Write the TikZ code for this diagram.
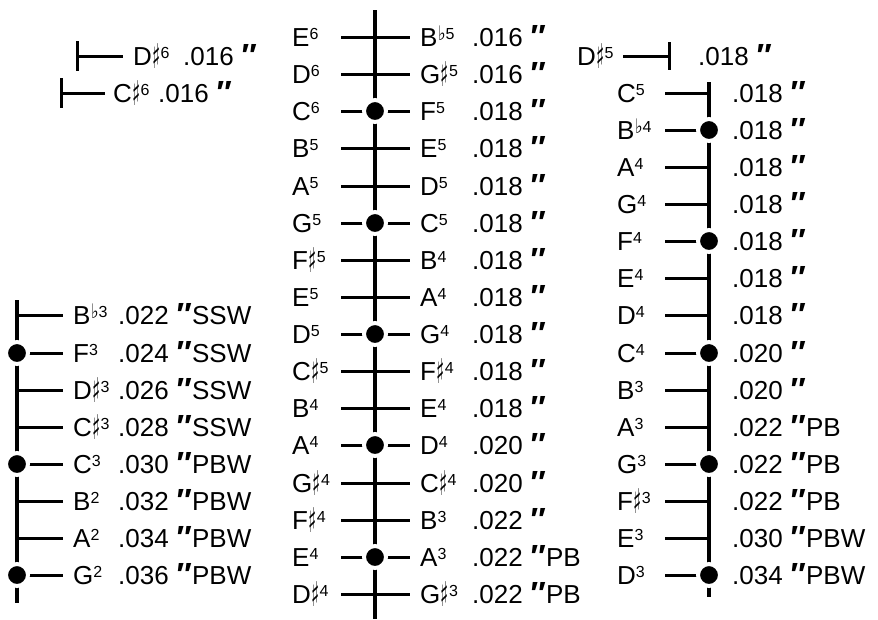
\documentclass[tikz,border=0pt]{standalone}
\usepackage{fontspec}
\setmainfont{Liberation Sans}
\newfontfamily\musicfont{DejaVu Sans}
\usetikzlibrary{positioning}
\tikzset{
  txt/.style={anchor=west,inner sep=0pt,text height=18.6pt,text depth=0pt},
  spine/.style={line width=3.2pt},
  stub/.style={line width=3pt},
  dot/.style={circle,fill=black,draw=white,line width=4pt,minimum size=22pt,inner sep=0pt},
}
\newcommand{\ry}[1]{round(37+#1*37.13)}
\newcommand{\sups}[1]{\raisebox{7pt}{\fontsize{16}{16}\selectfont #1}}
\newcommand{\shp}{\kern0.5pt\raisebox{-3pt}{\scalebox{0.5}[1]{\musicfont\fontsize{34}{34}\selectfont ♯}}}
\newcommand{\flt}{\kern0.5pt\raisebox{6pt}{\scalebox{0.8}[1]{\musicfont\fontsize{20}{20}\selectfont ♭}}}
\newcommand{\nt}[3]{#1#2\sups{#3}}
\newcommand{\inch}{\kern6pt\raisebox{-1pt}{\fontsize{32}{32}\selectfont\bfseries\itshape ″}\kern2pt}
% middle: row, name, left note, right note, gauge
\newcommand{\midrow}[5]{
  \coordinate (#2a) at (341,{\ry{#1}});
  \coordinate (#2b) at (410,{\ry{#1}});
  \draw[stub] (#2a) -- (#2b);
  \node[txt] (#2l) at (292,{\ry{#1}}) {#3};
  \node[txt] (#2r) at (420,{\ry{#1}}) {#4};
  \node[txt] (#2g) at (472,{\ry{#1}}) {#5};}
% left: row, name, note, gauge
\newcommand{\lowrow}[4]{
  \coordinate (#2a) at (17,{\ry{#1}});
  \coordinate (#2b) at (63,{\ry{#1}});
  \draw[stub] (#2a) -- (#2b);
  \node[txt] (#2n) at (73,{\ry{#1}}) {#3};
  \node[txt] (#2g) at (118,{\ry{#1}}) {#4};}
% right: row, name, note, gauge
\newcommand{\hirow}[4]{
  \coordinate (#2a) at (665,{\ry{#1}});
  \coordinate (#2b) at (709,{\ry{#1}});
  \draw[stub] (#2a) -- (#2b);
  \node[txt] (#2n) at (617,{\ry{#1}}) {#3};
  \node[txt] (#2g) at (732,{\ry{#1}}) {#4};}

\begin{document}
\begin{tikzpicture}[x=1pt,y=-1pt]
  \fontsize{26}{31}\selectfont
  \useasboundingbox (0,0) rectangle (878,619);

  % loose top strings
  \coordinate (Ds6t) at (77,{\ry{0.5}-15});
  \coordinate (Ds6u) at (77,{\ry{0.5}+15});
  \coordinate (Ds6b) at (123,{\ry{0.5}});
  \draw[stub] (Ds6t) -- (Ds6u);
  \draw[stub] (Ds6t|-Ds6b) -- (Ds6b);
  \node[txt] (Ds6n) at (133,{\ry{0.5}}) {\nt{D}{\shp}{6}};
  \node[txt] (Ds6g) at (183,{\ry{0.5}}) {.016\inch};

  \coordinate (Cs6t) at (61,{\ry{1.5}-15});
  \coordinate (Cs6u) at (61,{\ry{1.5}+15});
  \coordinate (Cs6b) at (105,{\ry{1.5}});
  \draw[stub] (Cs6t) -- (Cs6u);
  \draw[stub] (Cs6t|-Cs6b) -- (Cs6b);
  \node[txt] (Cs6n) at (113,{\ry{1.5}}) {\nt{C}{\shp}{6}};
  \node[txt] (Cs6g) at (158,{\ry{1.5}}) {.016\inch};

  \coordinate (Ds5t) at (669,{\ry{0.5}-14});
  \coordinate (Ds5u) at (669,{\ry{0.5}+14});
  \coordinate (Ds5a) at (623,{\ry{0.5}});
  \draw[stub] (Ds5t) -- (Ds5u);
  \draw[stub] (Ds5a) -- (Ds5a-|Ds5t);
  \node[txt] (Ds5n) at (577,{\ry{0.5}}) {\nt{D}{\shp}{5}};
  \node[txt] (Ds5g) at (698,{\ry{0.5}}) {.018\inch};

  % middle bridge
  \coordinate (mtop) at (375,10);
  \coordinate (mbot) at (375,619);
  \draw[spine] (mtop) -- (mbot);
  \midrow{0}{E6}{\nt{E}{}{6}}{\nt{B}{\flt}{5}}{.016\inch}
  \midrow{1}{D6}{\nt{D}{}{6}}{\nt{G}{\shp}{5}}{.016\inch}
  \midrow{2}{C6}{\nt{C}{}{6}}{\nt{F}{}{5}}{.018\inch}
  \midrow{3}{B5}{\nt{B}{}{5}}{\nt{E}{}{5}}{.018\inch}
  \midrow{4}{A5}{\nt{A}{}{5}}{\nt{D}{}{5}}{.018\inch}
  \midrow{5}{G5}{\nt{G}{}{5}}{\nt{C}{}{5}}{.018\inch}
  \midrow{6}{Fs5}{\nt{F}{\shp}{5}}{\nt{B}{}{4}}{.018\inch}
  \midrow{7}{E5}{\nt{E}{}{5}}{\nt{A}{}{4}}{.018\inch}
  \midrow{8}{D5}{\nt{D}{}{5}}{\nt{G}{}{4}}{.018\inch}
  \midrow{9}{Cs5}{\nt{C}{\shp}{5}}{\nt{F}{\shp}{4}}{.018\inch}
  \midrow{10}{B4}{\nt{B}{}{4}}{\nt{E}{}{4}}{.018\inch}
  \midrow{11}{A4}{\nt{A}{}{4}}{\nt{D}{}{4}}{.020\inch}
  \midrow{12}{Gs4}{\nt{G}{\shp}{4}}{\nt{C}{\shp}{4}}{.020\inch}
  \midrow{13}{Fs4}{\nt{F}{\shp}{4}}{\nt{B}{}{3}}{.022\inch}
  \midrow{14}{E4}{\nt{E}{}{4}}{\nt{A}{}{3}}{.022\inch PB}
  \midrow{15}{Ds4}{\nt{D}{\shp}{4}}{\nt{G}{\shp}{3}}{.022\inch PB}
  \node[dot] (C6d) at (375,{\ry{2}}) {};
  \node[dot] (G5d) at (375,{\ry{5}}) {};
  \node[dot] (D5d) at (375,{\ry{8}}) {};
  \node[dot] (A4d) at (375,{\ry{11}}) {};
  \node[dot] (E4d) at (375,{\ry{14}}) {};

  % bass bridge
  \coordinate (ltop) at (17,300);
  \coordinate (lbot) at (17,603);
  \draw[spine] (ltop) -- (lbot);
  \lowrow{7.5}{Bb3}{\nt{B}{\flt}{3}}{.022\inch SSW}
  \lowrow{8.5}{F3}{\nt{F}{}{3}}{.024\inch SSW}
  \lowrow{9.5}{Ds3}{\nt{D}{\shp}{3}}{.026\inch SSW}
  \lowrow{10.5}{Cs3}{\nt{C}{\shp}{3}}{.028\inch SSW}
  \lowrow{11.5}{C3}{\nt{C}{}{3}}{.030\inch PBW}
  \lowrow{12.5}{B2}{\nt{B}{}{2}}{.032\inch PBW}
  \lowrow{13.5}{A2}{\nt{A}{}{2}}{.034\inch PBW}
  \lowrow{14.5}{G2}{\nt{G}{}{2}}{.036\inch PBW}
  \node[dot] (F3d) at (17,{\ry{8.5}}) {};
  \node[dot] (C3d) at (17,{\ry{11.5}}) {};
  \node[dot] (G2d) at (17,{\ry{14.5}}) {};

  % right bridge
  \coordinate (rtop) at (709,82);
  \coordinate (rbot) at (709,597);
  \draw[spine] (rtop) -- (rbot);
  \hirow{1.5}{C5}{\nt{C}{}{5}}{.018\inch}
  \hirow{2.5}{Bb4}{\nt{B}{\flt}{4}}{.018\inch}
  \hirow{3.5}{A4r}{\nt{A}{}{4}}{.018\inch}
  \hirow{4.5}{G4r}{\nt{G}{}{4}}{.018\inch}
  \hirow{5.5}{F4}{\nt{F}{}{4}}{.018\inch}
  \hirow{6.5}{E4r}{\nt{E}{}{4}}{.018\inch}
  \hirow{7.5}{D4r}{\nt{D}{}{4}}{.018\inch}
  \hirow{8.5}{C4}{\nt{C}{}{4}}{.020\inch}
  \hirow{9.5}{B3r}{\nt{B}{}{3}}{.020\inch}
  \hirow{10.5}{A3r}{\nt{A}{}{3}}{.022\inch PB}
  \hirow{11.5}{G3}{\nt{G}{}{3}}{.022\inch PB}
  \hirow{12.5}{Fs3}{\nt{F}{\shp}{3}}{.022\inch PB}
  \hirow{13.5}{E3}{\nt{E}{}{3}}{.030\inch PBW}
  \hirow{14.5}{D3}{\nt{D}{}{3}}{.034\inch PBW}
  \node[dot] (Bb4d) at (709,{\ry{2.5}}) {};
  \node[dot] (F4d) at (709,{\ry{5.5}}) {};
  \node[dot] (C4d) at (709,{\ry{8.5}}) {};
  \node[dot] (G3d) at (709,{\ry{11.5}}) {};
  \node[dot] (D3d) at (709,{\ry{14.5}}) {};
\end{tikzpicture}
\end{document}
